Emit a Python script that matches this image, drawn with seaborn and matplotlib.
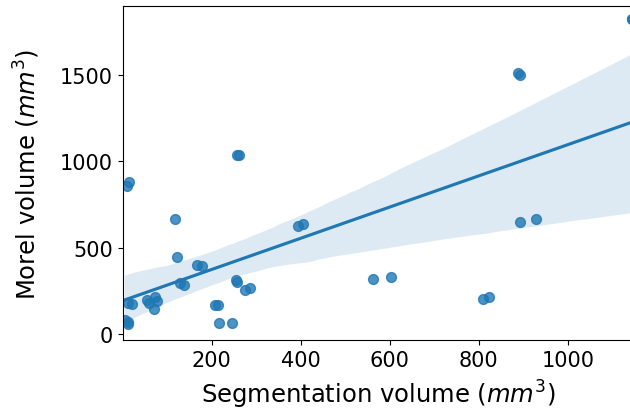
import matplotlib
matplotlib.use("Agg")
import matplotlib.pyplot as plt
import seaborn as sns
import numpy as np
import pandas as pd

seg_volume = [1145, 1145, 889, 893, 14, 9, 256, 262, 118, 123, 166, 178, 129, 137,
              255, 257, 275, 286, 11, 20, 54, 73, 76, 58, 71, 11, 12, 5,
              207, 215, 217, 246, 395, 406, 563, 602, 809, 824, 893, 928]
morel_volume = [1828, 1828, 1512, 1505, 883, 855, 1036, 1036, 666, 443, 400, 392, 296, 282,
                311, 300, 255, 263, 177, 171, 197, 210, 191, 180, 145, 69, 55, 80,
                166, 166, 59, 59, 627, 637, 317, 327, 200, 210, 650, 666]

df = pd.DataFrame({"seg": seg_volume, "morel": morel_volume})

plt.rcParams["font.family"] = ["DejaVu Sans"]
fig = plt.figure(figsize=(6.3, 4.14), dpi=100)
x0_px = 122.7
px_per_unit = 0.445
xmax = 1150
ax = fig.add_axes([x0_px / 630, 73 / 414, (xmax * px_per_unit) / 630, 334 / 414])
sns.regplot(data=df, x="seg", y="morel", ax=ax, scatter_kws={"s": 50}, seed=0)
ax.set_xlim(0, xmax)
ax.set_ylim(-37, 1903)
ax.set_xticks([200, 400, 600, 800, 1000])
ax.set_yticks([0, 500, 1000, 1500])
ax.tick_params(labelsize=15)
ax.set_xlabel("Segmentation volume ($mm^3$)", fontsize=17.5, labelpad=6)
ax.set_ylabel("Morel volume ($mm^3$)", fontsize=17.5, labelpad=13)
fig.savefig("out.png", dpi=100)
